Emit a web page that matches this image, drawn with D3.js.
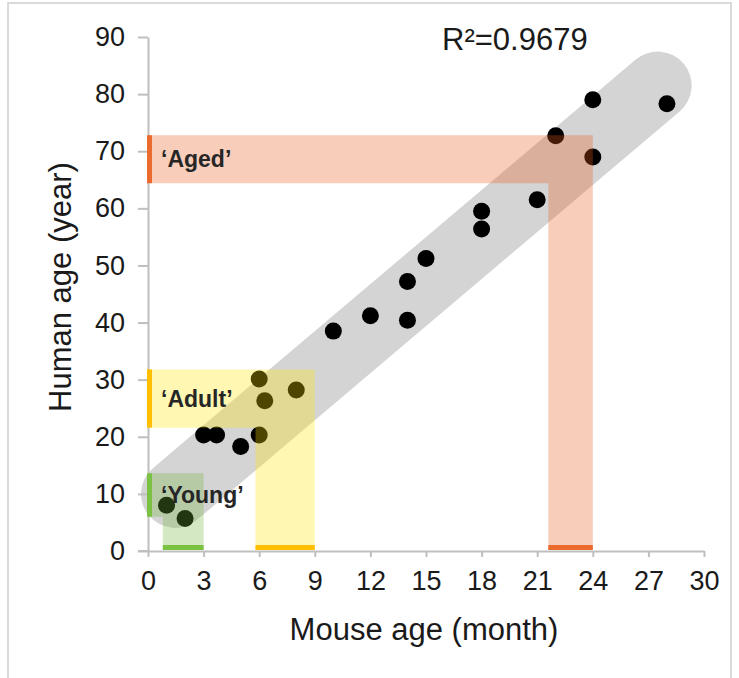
<!DOCTYPE html>
<html>
<head>
<meta charset="utf-8">
<script src="https://cdn.jsdelivr.net/npm/d3@7"></script>
<style>
  html, body { margin: 0; padding: 0; background: #fff; }
  svg { display: block; }
  text { font-family: "Liberation Sans", Arial, sans-serif; }
</style>
</head>
<body>
<svg id="chart" width="739" height="678"></svg>
<script>
// ---- data ----
const mouseAge = [1, 2, 3, 3.7, 5, 6, 6, 6.3, 8, 10, 12, 14, 14, 15, 18, 18, 21, 22, 24, 24, 28];
const humanAge = [8, 5.7, 20.3, 20.3, 18.3, 20.3, 30.1, 26.3, 28.2, 38.5, 41.2, 40.4, 47.2, 51.2, 56.4, 59.5, 61.5, 72.7, 69, 79, 78.3];

const groupLabels = ["\u2018Young\u2019", "\u2018Adult\u2019", "\u2018Aged\u2019"];
const groupHumanLow = [6, 21.6, 64.4];
const groupHumanHigh = [13.6, 31.8, 72.8];
const groupMouseLow = [0.8, 5.8, 21.6];
const groupMouseHigh = [3, 9, 24];
const groupColors = ["#70b33c", "#ffe600", "#e8591a"];
const groupStripColors = ["#7cc242", "#ffbf00", "#eb6a2e"];

const trendStart = [1.46, 10];
const trendEnd = [27.5, 81.5];
const r2Text = "R\u00B2=0.9679";

const xTicks = [0, 3, 6, 9, 12, 15, 18, 21, 24, 27, 30];
const yTicks = [0, 10, 20, 30, 40, 50, 60, 70, 80, 90];
const xTitle = "Mouse age (month)";
const yTitle = "Human age (year)";

// ---- layout ----
const svg = d3.select("#chart");
const x = d3.scaleLinear().domain([0, 30]).range([148, 704]);
const y = d3.scaleLinear().domain([0, 90]).range([551, 37]);

// frame
svg.append("rect").attr("x", 8).attr("y", 3).attr("width", 723).attr("height", 720)
  .attr("fill", "none").attr("stroke", "#dadada").attr("stroke-width", 2);

// trend band
svg.append("line")
  .attr("x1", x(trendStart[0])).attr("y1", y(trendStart[1]))
  .attr("x2", x(trendEnd[0])).attr("y2", y(trendEnd[1]))
  .attr("stroke", "#d4d4d4").attr("stroke-width", 68).attr("stroke-linecap", "round");

// axes
const xAxis = svg.append("g").attr("transform", `translate(0,${y(0)})`)
  .call(d3.axisBottom(x).tickValues(xTicks).tickSize(6).tickPadding(14).tickSizeOuter(0));
const yAxis = svg.append("g").attr("transform", `translate(${x(0)},0)`)
  .call(d3.axisLeft(y).tickValues(yTicks).tickSize(10).tickPadding(13).tickSizeOuter(0));
[xAxis, yAxis].forEach(g => {
  g.select(".domain").attr("stroke", "#bfbfbf").attr("stroke-width", 2);
  g.selectAll(".tick line").attr("stroke", "#bfbfbf").attr("stroke-width", 2);
  g.selectAll(".tick text").attr("fill", "#1a1a1a").style("font-size", "27px")
    .style("font-family", "'Liberation Sans', Arial, sans-serif");
});
svg.append("line").attr("x1", x(0) - 10).attr("x2", x(0)).attr("y1", y(0)).attr("y2", y(0))
  .attr("stroke", "#bfbfbf").attr("stroke-width", 2);

// points
svg.append("g").selectAll("circle").data(mouseAge).join("circle")
  .attr("cx", (d) => x(d)).attr("cy", (d, i) => y(humanAge[i])).attr("r", 8.5).attr("fill", "#000");

// group overlays (L shapes)
const overlay = svg.append("g");
groupLabels.forEach((lab, i) => {
  const pts = [
    [x(0) + 1, y(groupHumanLow[i])],
    [x(0) + 1, y(groupHumanHigh[i])],
    [x(groupMouseHigh[i]), y(groupHumanHigh[i])],
    [x(groupMouseHigh[i]), y(0) - 1],
    [x(groupMouseLow[i]), y(0) - 1],
    [x(groupMouseLow[i]), y(groupHumanLow[i])]
  ];
  overlay.append("path").attr("d", d3.line()(pts) + "Z")
    .attr("fill", groupColors[i]).attr("fill-opacity", 0.3);
  overlay.append("rect").attr("x", x(0) - 1).attr("width", 5)
    .attr("y", y(groupHumanHigh[i])).attr("height", y(groupHumanLow[i]) - y(groupHumanHigh[i]))
    .attr("fill", groupStripColors[i]);
  overlay.append("rect").attr("x", x(groupMouseLow[i])).attr("width", x(groupMouseHigh[i]) - x(groupMouseLow[i]))
    .attr("y", y(0) - 6).attr("height", 5).attr("fill", groupStripColors[i]);
  overlay.append("text").attr("x", x(0) + 13)
    .attr("y", (y(groupHumanLow[i]) + y(groupHumanHigh[i])) / 2 + 8)
    .attr("fill", "#262626").style("font-size", "23px").style("font-weight", "bold")
    .text(lab);
});

// R2
svg.append("text").attr("x", 442).attr("y", 50).attr("fill", "#1a1a1a")
  .style("font-size", "31px").text(r2Text);

// titles
svg.append("text").attr("x", 424).attr("y", 640).attr("text-anchor", "middle")
  .attr("fill", "#1a1a1a").style("font-size", "31px").text(xTitle);
svg.append("text").attr("transform", "translate(71,287) rotate(-90)").attr("text-anchor", "middle")
  .attr("fill", "#1a1a1a").style("font-size", "31px").text(yTitle);
</script>
</body>
</html>
